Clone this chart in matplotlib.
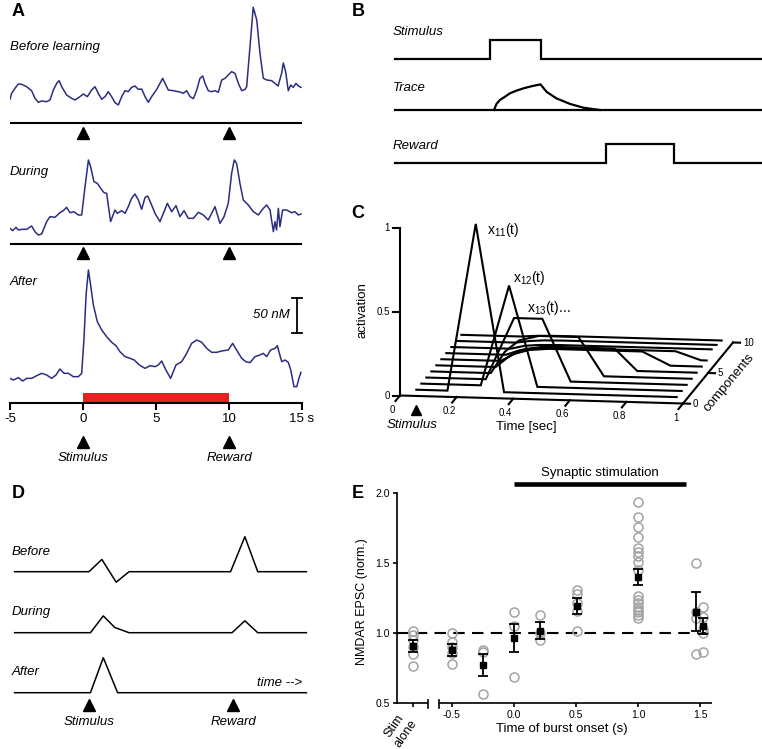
import numpy as np
import matplotlib
matplotlib.use('Agg')
import matplotlib.pyplot as plt

plt.rcParams['font.family'] = ['Liberation Sans', 'DejaVu Sans']
plt.rcParams['mathtext.default'] = 'regular'
plt.rcParams['axes.unicode_minus'] = False

# ---------------- DATA ----------------
# Panel A: dopamine traces (time in s, concentration in nM above baseline)
before_t = [-5.0, -4.89, -4.66, -4.43, -4.20, -3.86, -3.52, -3.29, -3.06, -2.83, -2.49, -2.26, -2.03, -1.80, -1.64,
            -1.46, -1.12, -0.78, -0.55, -0.21, 0.02, 0.30, 0.59, 0.82, 1.05, 1.28, 1.51, 1.73, 1.96, 2.19, 2.42, 2.65,
            2.88, 3.10, 3.33, 3.56, 3.79, 4.02, 4.25, 4.47, 4.70, 5.05, 5.27, 5.46, 5.62, 5.84, 6.19, 6.64, 6.87, 7.10,
            7.33, 7.56, 7.79, 8.01, 8.20, 8.36, 8.58, 8.81, 9.04, 9.27, 9.50, 9.73, 9.95, 10.18, 10.41, 10.64, 10.87,
            11.10, 11.21, 11.66, 11.90, 12.12, 12.35, 12.58, 12.92, 13.15, 13.36, 13.61, 13.72, 13.88, 14.06, 14.23,
            14.40, 14.59, 14.75, 14.93]
before_v = [1.0, 9.5, 16.7, 22.9, 22.4, 19.0, 13.3, 2.4, -3.3, -1.4, -2.4, 0.0, 14.3, 23.8, 27.6, 19.0, 7.1, 2.4, 0.0,
            4.8, 8.6, 4.8, 14.3, 19.0, 9.5, 1.0, 4.8, 11.9, 4.8, -3.8, -7.1, 4.8, 13.3, 11.9, 18.1, 20.0, 15.2, 15.7,
            4.8, -3.3, 4.8, 15.2, 23.8, 30.9, 23.8, 14.3, 13.3, 11.4, 9.5, 13.3, 4.8, 1.9, 14.3, 30.9, 34.3, 23.8, 13.3,
            11.9, 13.3, 11.0, 28.6, 30.9, 35.7, 40.5, 38.1, 23.8, 13.3, 15.2, 19.0, 132.4, 114.3, 67.1, 31.0, 28.6,
            27.6, 23.8, 20.0, 38.6, 52.9, 40.4, 13.3, 21.4, 18.1, 23.8, 20.0, 18.1]
during_t = [-5.0, -4.82, -4.59, -4.43, -4.20, -3.86, -3.52, -3.29, -3.06, -2.83, -2.49, -2.26, -1.92, -1.58, -1.35,
            -1.12, -0.89, -0.62, -0.32, -0.09, 0.14, 0.37, 0.52, 0.75, 0.98, 1.21, 1.44, 1.62, 1.89, 2.19, 2.35, 2.65,
            2.88, 3.10, 3.33, 3.56, 3.79, 4.02, 4.25, 4.43, 4.70, 4.93, 5.27, 5.55, 5.78, 6.07, 6.37, 6.64, 6.92, 7.21,
            7.56, 7.90, 8.24, 8.58, 9.04, 9.38, 9.66, 9.95, 10.18, 10.36, 10.52, 10.75, 10.98, 11.32, 11.67, 12.01,
            12.35, 12.58, 12.81, 13.04, 13.15, 13.26, 13.38, 13.49, 13.67, 13.95, 14.29, 14.52, 14.75, 14.93]
during_v = [5.2, 1.9, 6.7, 2.9, 3.8, 3.8, 8.6, 0.5, -4.3, -2.9, 14.8, 21.9, 21.0, 27.6, 30.5, 35.2, 27.6, 29.0, 24.3,
            24.3, 64.8, 102.9, 93.3, 71.9, 69.5, 62.4, 56.2, 55.2, 14.8, 31.4, 26.7, 30.5, 26.7, 36.2, 48.1, 54.3, 45.7,
            32.4, 49.5, 51.4, 38.6, 26.7, 14.8, 29.0, 41.0, 29.0, 37.6, 21.9, 30.5, 19.5, 19.5, 28.1, 24.3, 17.1, 36.2,
            12.4, 21.9, 41.0, 83.8, 102.9, 98.1, 69.5, 45.7, 38.6, 29.0, 24.3, 33.8, 38.6, 31.4, 0.5, 14.8, 2.9, 33.8,
            7.6, 31.4, 31.4, 27.6, 29.0, 24.3, 25.7]
after_t = [-5.0, -4.77, -4.43, -4.13, -3.86, -3.52, -3.17, -2.83, -2.49, -2.15, -1.85, -1.58, -1.30, -1.01, -0.66,
           -0.32, -0.09, 0.07, 0.21, 0.37, 0.52, 0.71, 0.98, 1.28, 1.62, 1.96, 2.26, 2.53, 2.88, 3.22, 3.51, 3.86, 4.25,
           4.59, 4.93, 5.16, 5.39, 5.68, 6.00, 6.37, 6.76, 7.10, 7.44, 7.79, 8.13, 8.47, 8.81, 9.16, 9.50, 9.95, 10.25,
           10.52, 10.87, 11.16, 11.44, 11.78, 12.12, 12.35, 12.58, 12.85, 13.15, 13.31, 13.45, 13.61, 13.84, 14.06,
           14.23, 14.45, 14.64, 14.79, 14.93]
after_v = [-0.5, -2.9, 0.5, -4.3, -0.5, -0.5, 3.3, 6.7, 4.3, -0.5, 4.3, 12.9, 6.7, 6.7, 1.9, 1.9, 6.7, 56.7, 118.6,
           154.3, 132.9, 104.3, 80.5, 68.6, 59.0, 51.0, 46.2, 37.6, 30.5, 28.1, 25.7, 18.6, 13.8, 17.6, 16.2, 18.6,
           24.3, 11.4, -0.5, 18.6, 23.3, 35.2, 49.5, 54.3, 51.0, 42.4, 36.7, 36.7, 38.6, 40.0, 49.5, 40.0, 28.1, 23.3,
           21.9, 30.5, 32.9, 35.2, 30.5, 40.0, 42.4, 46.2, 35.2, 23.3, 25.7, 22.4, 11.4, -12.4, -12.4, -0.5, 8.1]
a_ticks = [-5, 0, 5, 10, 15]
a_ticklabels = ['-5', '0', '5', '10', '15 s']
a_events = [0, 10]                      # stimulus, reward (s)
a_event_names = ['Stimulus', 'Reward']
a_learn_window = (0, 10)
a_scale_nM = 50

# Panel B: schematic signals
b_span = (-1.9, 5.44)
b_stim = (0.0, 1.01)
b_reward = (2.31, 3.68)
b_trace_t = [0.08, 0.13, 0.2, 0.3, 0.4, 0.53, 0.67, 0.83, 1.01, 1.13, 1.33, 1.6, 1.87, 2.2]
b_trace_v = [0.0, 0.32, 0.53, 0.70, 0.88, 1.02, 1.14, 1.25, 1.35, 0.96, 0.61, 0.32, 0.12, 0.0]

# Panel C: temporal basis components x_1k(t)
c_components = [1, 2, 3, 4, 5, 6, 7, 8, 9, 10]
c_times = [
    [0.04, 0.15, 0.25, 0.35, 0.96],
    [0.04, 0.25, 0.35, 0.45, 0.96],
    [0.04, 0.25, 0.35, 0.45, 0.55, 0.96],
    [0.04, 0.25, 0.30, 0.35, 0.42, 0.56, 0.65, 0.96],
    [0.04, 0.25, 0.30, 0.35, 0.42, 0.67, 0.75, 0.96],
    [0.04, 0.25, 0.30, 0.35, 0.42, 0.75, 0.85, 0.96],
    [0.04, 0.25, 0.30, 0.35, 0.42, 0.85, 0.94, 0.96],
    [0.04, 0.25, 0.30, 0.35, 0.42, 0.96],
    [0.04, 0.25, 0.30, 0.35, 0.42, 0.96],
    [0.04, 0.25, 0.30, 0.35, 0.42, 0.96],
]
c_acts = [
    [0, 0, 1.0, 0, 0],
    [0, 0, 0.6, 0, 0],
    [0, 0, 0.37, 0.37, 0, 0],
    [0, 0, 0.13, 0.20, 0.23, 0.23, 0, 0],
    [0, 0, 0.07, 0.11, 0.13, 0.13, 0, 0],
    [0, 0, 0.045, 0.07, 0.08, 0.08, 0, 0],
    [0, 0, 0.03, 0.045, 0.05, 0.05, 0, 0],
    [0, 0, 0.02, 0.027, 0.03, 0.03],
    [0, 0, 0.012, 0.018, 0.02, 0.02],
    [0, 0, 0.006, 0.009, 0.01, 0.01],
]
c_tticks = [0, 0.2, 0.4, 0.6, 0.8, 1]
c_tticklabels = ['0', '0.2', '0.4', '0.6', '0.8', '1']
c_aticks = [0, 0.5, 1]
c_aticklabels = ['0', '0.5', '1']
c_kticks = [0, 5, 10]

# Panel D: schematic model responses (stimulus at 0, reward at 1)
d_before_t = [-0.52, 0.0, 0.09, 0.19, 0.28, 0.99, 1.09, 1.18, 1.52]
d_before_v = [0, 0, 0.35, -0.30, 0, 0, 1.0, 0, 0]
d_during_t = [-0.52, 0.01, 0.10, 0.18, 0.28, 1.0, 1.09, 1.18, 1.52]
d_during_v = [0, 0, 0.48, 0.15, 0, 0, 0.34, 0, 0]
d_after_t = [-0.52, 0.01, 0.10, 0.20, 1.52]
d_after_v = [0, 0, 1.0, 0, 0]
d_events = [0.0, 1.01]

# Panel E: NMDAR EPSC vs burst onset
e_x = [-0.814, -0.5, -0.245, 0.0, 0.21, 0.507, 1.0, 1.467, 1.525]
e_mean = [0.91, 0.88, 0.775, 0.965, 1.02, 1.195, 1.40, 1.155, 1.05]
e_sem = [0.045, 0.043, 0.08, 0.10, 0.063, 0.058, 0.057, 0.14, 0.056]
e_cells = [
    [1.02, 0.99, 0.95, 0.90, 0.85, 0.77],
    [1.00, 0.94, 0.90, 0.86, 0.78],
    [0.88, 0.87, 0.57],
    [1.15, 1.05, 0.69],
    [1.13, 1.00, 0.95],
    [1.31, 1.28, 1.22, 1.16, 1.02],
    [1.94, 1.83, 1.76, 1.69, 1.61, 1.58, 1.55, 1.51, 1.45, 1.27, 1.24, 1.22, 1.19, 1.17, 1.15, 1.13, 1.11],
    [1.50, 1.15, 1.11, 0.85],
    [1.19, 1.12, 1.03, 1.00, 0.87],
]
e_xticks = [-0.5, 0.0, 0.5, 1.0, 1.5]
e_xticklabels = ['-0.5', '0.0', '0.5', '1.0', '1.5']
e_yticks = [0.5, 1.0, 1.5, 2.0]
e_yticklabels = ['0.5', '1.0', '1.5', '2.0']
e_stim_window = (0.0, 1.39)

# ---------------- FIGURE ----------------
W, H = 762, 749
fig = plt.figure(figsize=(W / 100, H / 100), dpi=100)


def add_ax(x0, y0, x1, y1):
    ax = fig.add_axes([x0 / W, 1 - y1 / H, (x1 - x0) / W, (y1 - y0) / H])
    ax.patch.set_alpha(0)
    return ax


def blank(ax):
    for s in ax.spines.values():
        s.set_visible(False)
    ax.set_xticks([])
    ax.set_yticks([])


def panel_letter(x, y, s):
    fig.text(x / W, 1 - y / H, s, ha='center', va='center', fontsize=13, fontweight='bold')


TXT = 9.5
navy = '#2b2e80'

# ---------- Panel A ----------
PX = 0.7
axA = add_ax(10, 0, 302, 403)
axA.set_xlim(-5, 15)
axA.set_ylim(0, 403 / PX)


def ay(px):
    return (403 - px) / PX


for s in ['top', 'right', 'left']:
    axA.spines[s].set_visible(False)
axA.spines['bottom'].set_linewidth(1.5)
axA.set_yticks([])
axA.set_xticks(a_ticks)
axA.set_xticklabels(a_ticklabels, fontsize=9.5)
axA.tick_params(axis='x', length=5, width=1.5, pad=2)

axA.plot(before_t, np.array(before_v) + ay(100), color=navy, lw=1.1)
axA.plot(during_t, np.array(during_v) + ay(232), color=navy, lw=1.1)
axA.plot(after_t, np.array(after_v) + ay(378), color=navy, lw=1.1)

for sep_px, tri_px in [(123, 133), (244, 253)]:
    axA.plot([-5, 15], [ay(sep_px)] * 2, color='k', lw=1.5, solid_capstyle='butt')
    axA.plot(a_events, [ay(tri_px)] * 2, '^', color='k', ms=8, clip_on=False)
axA.plot(a_events, [ay(442)] * 2, '^', color='k', ms=8, clip_on=False)
for xe, name in zip(a_events, a_event_names):
    axA.text(xe, ay(458), name, style='italic', ha='center', va='center', fontsize=TXT)

axA.fill_between(list(a_learn_window), ay(402), ay(393), color='#e52421', lw=0)

axA.text(-5, ay(47), 'Before learning', style='italic', ha='left', va='center', fontsize=TXT)
axA.text(-5, ay(172), 'During', style='italic', ha='left', va='center', fontsize=TXT)
axA.text(-5, ay(282), 'After', style='italic', ha='left', va='center', fontsize=TXT)

sb_x, sb_top = 14.66, ay(298)
axA.plot([sb_x, sb_x], [sb_top, sb_top - a_scale_nM], color='k', lw=1.3, clip_on=False)
for yy in [sb_top, sb_top - a_scale_nM]:
    axA.plot([sb_x - 0.33, sb_x + 0.33], [yy, yy], color='k', lw=1.3, clip_on=False)
axA.text(14.18, sb_top - a_scale_nM / 2, '%d nM' % a_scale_nM, style='italic', ha='right', va='center',
         fontsize=TXT)
panel_letter(18, 12, 'A')

# ---------- Panel B ----------
axB = add_ax(370, 0, 762, 190)
axB.set_xlim(-2.4, 5.44)
axB.set_ylim(0, 10)
blank(axB)


def by(px):
    return (190 - px) / 19


lwB = 1.6
for base, (on, off) in [(by(59.3), b_stim), (by(163.3), b_reward)]:
    xs = [b_span[0], on, on, off, off, b_span[1]]
    ys = np.array([0, 0, 1, 1, 0, 0]) + base
    axB.plot(xs, ys, color='k', lw=lwB, solid_joinstyle='miter', clip_on=False)
base_tr = by(110)
axB.plot(list(b_span), [base_tr] * 2, color='k', lw=lwB, clip_on=False)
axB.plot(b_trace_t, np.array(b_trace_v) + base_tr, color='k', lw=lwB)
bx = (393 - 490) / 50
axB.text(bx, by(31.7), 'Stimulus', style='italic', ha='left', va='center', fontsize=TXT)
axB.text(bx, by(87.7), 'Trace', style='italic', ha='left', va='center', fontsize=TXT)
axB.text(bx, by(145.7), 'Reward', style='italic', ha='left', va='center', fontsize=TXT)
panel_letter(358, 11, 'B')

# ---------- Panel C ----------
axC = add_ax(370, 200, 762, 440)
axC.set_xlim(370, 762)
axC.set_ylim(440, 200)
blank(axC)


def proj(t, k, a):
    t = np.asarray(t, float)
    k = np.asarray(k, float)
    a = np.asarray(a, float)
    return 400 + 283 * t + 5 * k, 395.5 + 8 * t - 6.1 * k - 167.5 * a


lwC = 1.5
# axes
axC.plot(*proj([0, 0], 0, [0, 1]), color='k', lw=lwC)
for av, lab in zip(c_aticks, c_aticklabels):
    X, Y = proj(0, 0, av)
    axC.plot([X - 7, X], [Y, Y], color='k', lw=lwC)
    axC.text(X - 10, Y, lab, ha='right', va='center', fontsize=7)
axC.plot(*proj([0, 1], 0, [0, 0]), color='k', lw=lwC)
for tv, lab in zip(c_tticks, c_tticklabels):
    axC.plot(*proj([tv, tv], [0, -0.9], [0, 0]), color='k', lw=lwC)
    X, Y = proj(tv, -1.5, 0)
    axC.text(X, Y, lab, ha='center', va='top', fontsize=7)
axC.plot(*proj([1, 1], [0, 10], [0, 0]), color='k', lw=lwC)
for kv in c_kticks:
    axC.plot(*proj([1, 1.025], kv, [0, 0]), color='k', lw=lwC)
    X, Y = proj(1.035, kv, 0)
    axC.text(X, Y, str(kv), ha='left', va='center', fontsize=7)
# component curves (back to front)
for k, tt, aa in reversed(list(zip(c_components, c_times, c_acts))):
    axC.plot(*proj(tt, k, aa), color='k', lw=lwC, solid_joinstyle='miter')
# labels
for k, dx, dy, lab in [(1, 11, 6, r'x$_{11}$(t)'), (2, 4, -8, r'x$_{12}$(t)'), (3, 13, -10, r'x$_{13}$(t)...')]:
    i = c_components.index(k)
    j = int(np.argmax(c_acts[i]))
    X, Y = proj(c_times[i][j], k, c_acts[i][j])
    axC.text(X + dx, Y + dy, lab, ha='left', va='center', fontsize=10)
fig.text(362 / W, 1 - 310 / H, 'activation', rotation=90, ha='center', va='center', fontsize=TXT)
axC.text(526.7, 426.7, 'Time [sec]', ha='center', va='center', fontsize=TXT)
axC.text(411.7, 425, 'Stimulus', style='italic', ha='center', va='center', fontsize=TXT)
axC.plot(*proj(0.095, -2.2, 0), '^', color='k', ms=7)
axC.text(729, 382.5, 'components', rotation=50, ha='center', va='center', fontsize=TXT, rotation_mode='anchor')
panel_letter(358, 213, 'C')

# ---------- Panel D ----------
axD = add_ax(0, 530, 330, 749)
axD.set_xlim((0 - 89) / 143, (330 - 89) / 143)
axD.set_ylim(0, (749 - 530) / 35)
blank(axD)


def dy_(px):
    return (749 - px) / 35


lwD = 1.1
axD.plot(d_before_t, np.array(d_before_v) + dy_(571.7), color='k', lw=lwD)
axD.plot(d_during_t, np.array(d_during_v) + dy_(632.7), color='k', lw=lwD)
axD.plot(d_after_t, np.array(d_after_v) + dy_(692.7), color='k', lw=lwD)
dx0 = (11.7 - 89) / 143
axD.text(dx0, dy_(552.3), 'Before', style='italic', ha='left', va='center', fontsize=TXT)
axD.text(dx0, dy_(612.3), 'During', style='italic', ha='left', va='center', fontsize=TXT)
axD.text(dx0, dy_(672.3), 'After', style='italic', ha='left', va='center', fontsize=TXT)
axD.text((301.7 - 89) / 143, dy_(682.7), 'time -->', style='italic', ha='right', va='center', fontsize=TXT)
axD.plot(d_events, [dy_(705)] * 2, '^', color='k', ms=8)
for xe, name in zip(d_events, a_event_names):
    axD.text(xe, dy_(721.7), name, style='italic', ha='center', va='center', fontsize=TXT)
panel_letter(18, 493, 'D')

# ---------- Panel E ----------
axE = add_ax(396.7, 493.3, 711.7, 703.3)
axE.set_xlim(-0.943, 1.593)
axE.set_ylim(0.5, 2.0)
for s in ['top', 'right', 'bottom']:
    axE.spines[s].set_visible(False)
axE.spines['left'].set_linewidth(1.2)
axE.set_yticks(e_yticks)
axE.set_yticklabels(e_yticklabels, fontsize=7.5)
axE.set_xticks([e_x[0]] + e_xticks)
axE.set_xticklabels([''] + e_xticklabels, fontsize=7.5)
axE.tick_params(length=3, width=1.2, pad=2)
tr = axE.get_xaxis_transform()
for seg in [(-0.943, -0.688), (-0.6, 1.593)]:
    axE.plot(list(seg), [0, 0], transform=tr, color='k', lw=1.2, clip_on=False, solid_capstyle='butt')
for xb in [-0.688, -0.6]:
    axE.plot([xb, xb], [0.016, -0.02], transform=tr, color='k', lw=1.2, clip_on=False)
axE.axhline(1.0, color='k', lw=1.5, dashes=(5.5, 3.5))
for x, cells in zip(e_x, e_cells):
    axE.plot([x] * len(cells), cells, 'o', mfc='none', mec='#a3a3a3', mew=1.1, ms=6.5, clip_on=False)
axE.errorbar(e_x, e_mean, yerr=e_sem, fmt='s', color='k', ms=5, capsize=3.5, elinewidth=1.3, capthick=1.3)
axE.plot(list(e_stim_window), [2.064, 2.064], color='k', lw=3.3, solid_capstyle='butt', clip_on=False)
axE.text(np.mean(e_stim_window), 2.147, 'Synaptic stimulation', ha='center', va='center', fontsize=TXT)
axE.set_xlabel('Time of burst onset (s)', fontsize=TXT)
axE.xaxis.set_label_coords(0.524, -0.096)
axE.set_ylabel('NMDAR EPSC (norm.)', fontsize=9)
axE.yaxis.set_label_coords(-0.091, 0.484)
fig.text(400 / W, 1 - 730 / H, 'Stim\nalone', rotation=55, ha='center', va='center', fontsize=9,
         multialignment='center')
panel_letter(358, 493, 'E')

fig.savefig('out.png', dpi=100)
